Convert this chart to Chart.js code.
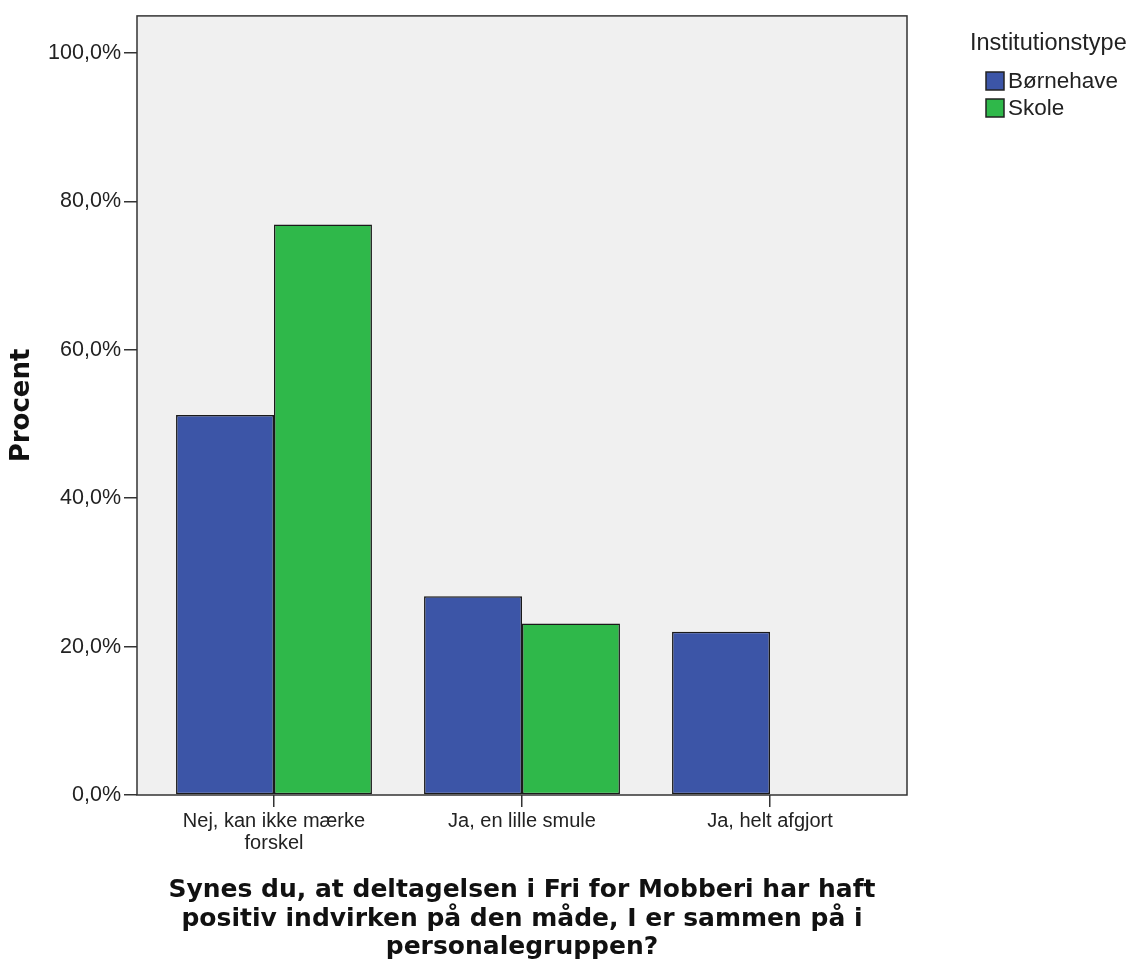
<!DOCTYPE html>
<html>
<head>
<meta charset="utf-8">
<script src="https://cdn.jsdelivr.net/npm/chart.js@4.4.1/dist/chart.umd.min.js"></script>
<style>
  html, body { margin: 0; padding: 0; background: #fff; }
  #wrap { width: 1136px; height: 962px; position: relative; }
</style>
</head>
<body>
<div id="wrap"><canvas id="chart" width="1136" height="962"></canvas></div>
<script>
const categories = [["Nej, kan ikke mærke", "forskel"], "Ja, en lille smule", "Ja, helt afgjort"];
const seriesNames = ["Børnehave", "Skole"];
const borneValues = [51.2, 26.8, 22.0];
const skoleValues = [76.9, 23.1, 0];
const yTicks = [0, 20, 40, 60, 80, 100];
const colors = ["#3c55a7", "#2fb84a"];

const xTitle = [
  "Synes du, at deltagelsen i Fri for Mobberi har haft",
  "positiv indvirken på den måde, I er sammen på i",
  "personalegruppen?"
];

const plotBackground = {
  id: "plotBackground",
  beforeDraw(chart) {
    const { ctx, chartArea } = chart;
    ctx.save();
    ctx.fillStyle = "#ffffff";
    ctx.fillRect(0, 0, chart.width, chart.height);
    ctx.fillStyle = "#f0f0f0";
    ctx.fillRect(chartArea.left, chartArea.top, chartArea.right - chartArea.left, chartArea.bottom - chartArea.top);
    ctx.restore();
  },
  afterDatasetsDraw(chart) {
    const { ctx, chartArea } = chart;
    ctx.save();
    ctx.strokeStyle = "#333333";
    ctx.lineWidth = 1.5;
    ctx.strokeRect(chartArea.left, chartArea.top, chartArea.right - chartArea.left, chartArea.bottom - chartArea.top);
    ctx.restore();
  },
  afterDraw(chart) {
    const { ctx } = chart;
    ctx.save();
    ctx.fillStyle = "#222222";
    ctx.textBaseline = "middle";
    ctx.font = "23.5px 'Liberation Sans', Arial, sans-serif";
    ctx.fillText("Institutionstype", 970, 44);
    ctx.font = "22.5px 'Liberation Sans', Arial, sans-serif";
    seriesNames.forEach((name, i) => {
      const y = 72 + i * 27;
      ctx.fillStyle = colors[i];
      ctx.fillRect(986, y, 18, 18);
      ctx.strokeStyle = "#222222";
      ctx.lineWidth = 1.5;
      ctx.strokeRect(986, y, 18, 18);
      ctx.fillStyle = "#222222";
      ctx.fillText(name, 1008, y + 10);
    });
    ctx.restore();
  }
};

new Chart(document.getElementById("chart"), {
  type: "bar",
  data: {
    datasets: [
      {
        label: seriesNames[0],
        data: borneValues.map((v, i) => ({ x: i, y: v })),
        backgroundColor: colors[0],
        borderColor: "#1a1a1a",
        borderWidth: 1.5,
        borderSkipped: false,
        categoryPercentage: 0.79,
        barPercentage: 1
      },
      {
        label: seriesNames[1],
        data: skoleValues.map((v, i) => ({ x: i, y: v })),
        backgroundColor: colors[1],
        borderColor: "#1a1a1a",
        borderWidth: 1.5,
        borderSkipped: false,
        categoryPercentage: 0.79,
        barPercentage: 1
      }
    ]
  },
  options: {
    responsive: false,
    animation: false,
    layout: { padding: { top: 15, right: 229, left: 0, bottom: 0 } },
    plugins: {
      legend: { display: false },
      tooltip: { enabled: false }
    },
    scales: {
      x: {
        type: "linear",
        min: -0.5524,
        max: 2.5524,
        offset: false,
        afterFit(scale) { scale.height = 167; },
        border: { display: false },
        grid: { offset: false, drawOnChartArea: false, tickLength: 12, color: "#333333", lineWidth: 1.5 },
        ticks: {
          stepSize: 1,
          includeBounds: false,
          autoSkip: false,
          maxRotation: 0,
          padding: 3,
          color: "#222222",
          font: { family: "'Liberation Sans', Arial, sans-serif", size: 20, lineHeight: 1.1 },
          callback: (v) => (Number.isInteger(v) && categories[v] !== undefined ? categories[v] : "")
        },
        title: {
          display: true,
          text: xTitle,
          color: "#111111",
          padding: { top: 0, bottom: 0 },
          font: { family: "'DejaVu Sans', sans-serif", size: 25, weight: "bold", lineHeight: 1.14 }
        }
      },
      y: {
        min: 0,
        max: 105,
        afterFit(scale) { scale.width = 137; },
        afterBuildTicks(scale) { scale.ticks = yTicks.map((v) => ({ value: v })); },
        border: { display: false },
        grid: { drawOnChartArea: false, tickLength: 13, color: "#333333", lineWidth: 1.5 },
        ticks: {
          padding: 3,
          color: "#222222",
          font: { family: "'Liberation Sans', Arial, sans-serif", size: 21.5 },
          callback: (v) => v.toFixed(1).replace(".", ",") + "%"
        },
        title: {
          display: true,
          text: "Procent",
          color: "#111111",
          padding: { top: 7, bottom: 0 },
          font: { family: "'DejaVu Sans', sans-serif", size: 26, weight: "bold" }
        }
      }
    }
  },
  plugins: [plotBackground]
});
</script>
</body>
</html>
